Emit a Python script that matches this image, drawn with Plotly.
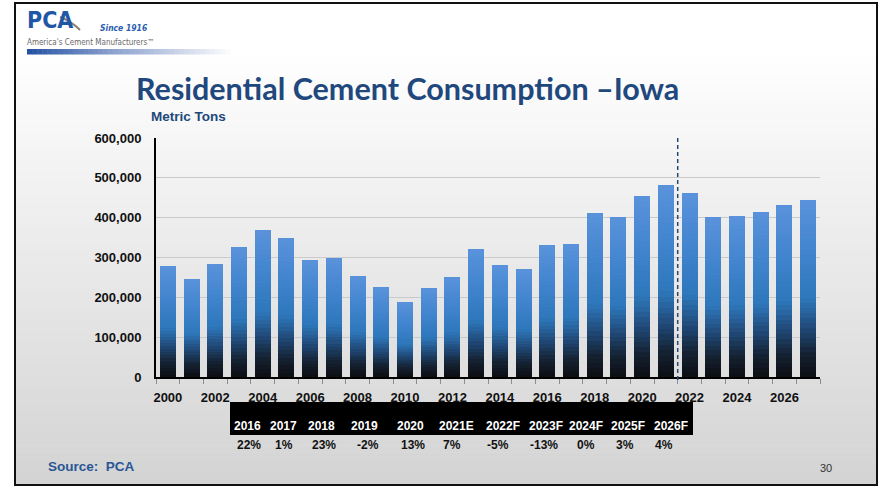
import plotly.graph_objects as go

# ---------------- data ----------------
years = list(range(2000, 2028))
consumption = [279000, 247000, 284000, 327000, 370000, 350000, 294000, 300000,
               254000, 227000, 189000, 224000, 252000, 322000, 282000, 272000,
               332000, 335000, 412000, 402000, 455000, 483000, 463000, 402000,
               405000, 415000, 432000, 445000]
x_tick_years = list(range(2000, 2027, 2))
y_tick_vals = [0, 100000, 200000, 300000, 400000, 500000, 600000]
table_years = ["2016", "2017", "2018", "2019", "2020", "2021E", "2022F",
               "2023F", "2024F", "2025F", "2026F"]
table_growth = ["22%", "1%", "23%", "-2%", "13%", "7%", "-5%", "-13%",
                "0%", "3%", "4%"]
forecast_split = 2021.5

# ---------------- geometry helpers ----------------
SW, SH = 879, 487            # screen / figure size (body margin removed)
W, H = SW, SH
# plot area in screen pixels
L, R, T, B = 156, 820, 138, 377


def px(x):
    return (x - L) / (R - L)


def py(y):
    return (B - y) / (B - T)


def hexrgb(h):
    h = h.lstrip('#')
    return tuple(int(h[i:i + 2], 16) for i in (0, 2, 4))


def lerp_scale(stops, t):
    for (t0, c0), (t1, c1) in zip(stops[:-1], stops[1:]):
        if t0 <= t <= t1:
            f = 0 if t1 == t0 else (t - t0) / (t1 - t0)
            a, b = hexrgb(c0), hexrgb(c1)
            return 'rgb(%d,%d,%d)' % tuple(round(a[i] + (b[i] - a[i]) * f) for i in range(3))
    return stops[-1][1]


bar_stops = [(0.0, '#0c0e12'), (0.12, '#14202f'), (0.26, '#1f4470'),
             (0.44, '#2e77bb'), (0.7, '#4184ce'), (1.0, '#5a93db')]

fig = go.Figure()

# gradient bars via stacked segments
N = 36
for k in range(N):
    t = (k + 0.5) / N
    fig.add_trace(go.Bar(
        x=years, y=[v / N for v in consumption],
        marker=dict(color=lerp_scale(bar_stops, t), line=dict(width=0)),
        width=0.67, showlegend=False, hoverinfo='skip'))

shapes = []
# slide background gradient
bg_stops = [(0.0, '#ffffff'), (0.1, '#ffffff'), (1.0, '#d3d3d3')]
S = 70
for i in range(S):
    y0 = SH * i / S
    y1 = SH * (i + 1) / S + 0.6
    shapes.append(dict(type='rect', xref='paper', yref='paper', layer='below',
                       x0=px(0), x1=px(SW), y0=py(y1), y1=py(y0),
                       fillcolor=lerp_scale(bg_stops, (i + 0.5) / S),
                       line=dict(width=0)))
# white outside frame
for (a, b_, c, d) in [(0, 15, 0, SH), (877, SW, 0, SH), (0, SW, 0, 3), (0, SW, 485, SH)]:
    shapes.append(dict(type='rect', xref='paper', yref='paper', layer='below',
                       x0=px(a), x1=px(b_), y0=py(d), y1=py(c),
                       fillcolor='white', line=dict(width=0)))
# logo gradient bar
G = 40
for i in range(G):
    x0 = 27 + (230 - 27) * i / G
    x1 = 27 + (230 - 27) * (i + 1) / G + 0.5
    shapes.append(dict(type='rect', xref='paper', yref='paper', layer='below',
                       x0=px(x0), x1=px(x1), y0=py(54.5), y1=py(49),
                       fillcolor=lerp_scale([(0, '#2552a3'), (0.35, '#7f97c8'), (1, '#ffffff')], i / G),
                       line=dict(width=0)))
# slide frame
shapes.append(dict(type='rect', xref='paper', yref='paper', layer='above',
                   x0=px(15), x1=px(877), y0=py(485), y1=py(3),
                   line=dict(color='#111111', width=2), fillcolor='rgba(0,0,0,0)'))
# forecast divider
shapes.append(dict(type='line', xref='x', yref='paper', layer='above',
                   x0=forecast_split, x1=forecast_split, y0=py(380), y1=py(136),
                   line=dict(color='#27486f', width=1.5, dash='4px,3px')))
# table black band
shapes.append(dict(type='rect', xref='paper', yref='paper', layer='above',
                   x0=px(230), x1=px(693), y0=py(435), y1=py(402),
                   fillcolor='black', line=dict(width=0)))
# logo swoosh
shapes.append(dict(type='path', xref='paper', yref='paper', layer='above',
                   path='M %f,%f Q %f,%f %f,%f' % (px(60), py(17), px(71), py(21), px(80), py(30)),
                   line=dict(color='#8a7f73', width=2)))

annotations = []
# title
annotations.append(dict(text='<b>Residential Cement Consumption –Iowa</b>', xref='paper', yref='paper',
                        x=px(407), y=py(88), xanchor='center', yanchor='middle', showarrow=False,
                        font=dict(family='Lato', size=30.5, color='#21487c')))
annotations.append(dict(text='<b>Metric Tons</b>', xref='paper', yref='paper',
                        x=px(149), y=py(116), xanchor='left', yanchor='middle', showarrow=False,
                        font=dict(family='Liberation Sans', size=13.5, color='#21487c')))
# logo texts
annotations.append(dict(text='<b>PCA</b>', xref='paper', yref='paper',
                        x=px(25), y=py(20), xanchor='left', yanchor='middle', showarrow=False,
                        font=dict(family='DejaVu Sans Condensed, Liberation Sans', size=23, color='#1f56a6')))
annotations.append(dict(text='<i><b>Since 1916</b></i>', xref='paper', yref='paper',
                        x=px(98), y=py(28), xanchor='left', yanchor='middle', showarrow=False,
                        font=dict(family='DejaVu Sans Condensed, Liberation Sans', size=8.5, color='#2a5db0')))
annotations.append(dict(text="America's Cement Manufacturers™", xref='paper', yref='paper',
                        x=px(25), y=py(42), xanchor='left', yanchor='middle', showarrow=False,
                        font=dict(family='DejaVu Sans Condensed, Liberation Sans', size=8, color='#6a6a6a')))
# table
tx_years = [247, 283, 321, 364, 410, 456, 503, 546, 586, 628, 671]
tx_growth = [249, 284, 324, 368, 413, 452, 498, 544, 586, 625, 664]
for lab, xx in zip(table_years, tx_years):
    annotations.append(dict(text='<b>%s</b>' % lab, xref='paper', yref='paper',
                            x=px(xx), y=py(426), xanchor='center', yanchor='middle', showarrow=False,
                            font=dict(family='Liberation Sans', size=12, color='white')))
for lab, xx in zip(table_growth, tx_growth):
    annotations.append(dict(text='<b>%s</b>' % lab, xref='paper', yref='paper',
                            x=px(xx), y=py(445), xanchor='center', yanchor='middle', showarrow=False,
                            font=dict(family='Liberation Sans', size=12, color='#111111')))
annotations.append(dict(text='<b>Source:  PCA</b>', xref='paper', yref='paper',
                        x=px(46), y=py(466), xanchor='left', yanchor='middle', showarrow=False,
                        font=dict(family='Liberation Sans', size=13.5, color='#2a5595')))
annotations.append(dict(text='30', xref='paper', yref='paper',
                        x=px(826), y=py(468), xanchor='center', yanchor='middle', showarrow=False,
                        font=dict(family='Liberation Sans', size=11, color='#333333')))

fig.update_layout(
    width=W, height=H,
    margin=dict(l=L, r=SW - R, t=T, b=SH - B, pad=0),
    paper_bgcolor='white', plot_bgcolor='rgba(0,0,0,0)',
    barmode='stack', bargap=0.33,
    showlegend=False,
    shapes=shapes, annotations=annotations,
    xaxis=dict(range=[1999.5, 2027.5], tickmode='array', tickvals=x_tick_years,
               ticktext=[str(y) for y in x_tick_years], ticks='',
               showgrid=False, showline=True, linecolor='black', linewidth=2,
               ticklabelstandoff=7,
               tickfont=dict(family='Liberation Sans', size=13, color='#111111', weight='bold'),
               minor=dict(tickmode='array', tickvals=[1999.5 + i for i in range(29)],
                          ticks='outside', ticklen=5, tickcolor='#8c8c8c', tickwidth=1,
                          showgrid=False),
               zeroline=False, fixedrange=True),
    yaxis=dict(range=[0, 600000], tickmode='array', tickvals=y_tick_vals,
               ticktext=['{:,}'.format(v) for v in y_tick_vals], ticks='',
               showgrid=True, gridcolor='#cacaca', gridwidth=1,
               showline=True, linecolor='black', linewidth=2,
               ticklabelstandoff=10,
               tickfont=dict(family='Liberation Sans', size=13, color='#111111', weight='bold'),
               zeroline=False, fixedrange=True),
)

fig.write_html('out.html', config={'displayModeBar': False},
               post_script="document.body.style.margin='0px';document.body.style.overflow='hidden';")
